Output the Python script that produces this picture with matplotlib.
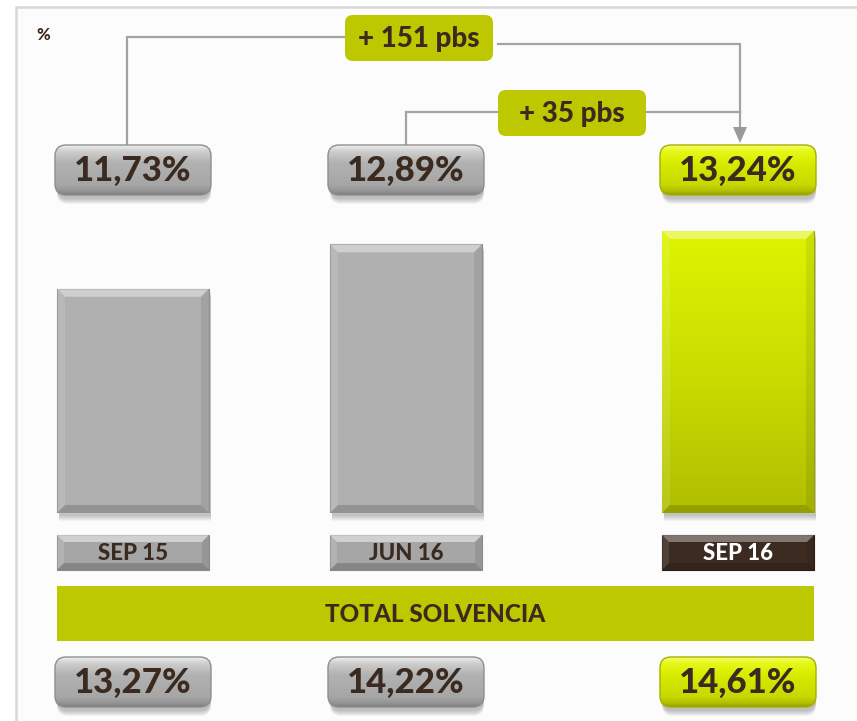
import numpy as np
import matplotlib
matplotlib.use('Agg')
import matplotlib.pyplot as plt
from matplotlib.patches import FancyBboxPatch, Rectangle, Polygon
from matplotlib.colors import to_rgb

plt.rcParams['font.family'] = ['Lato', 'DejaVu Sans']

# data
categories = ['SEP 15', 'JUN 16', 'SEP 16']
cet1 = [11.73, 12.89, 13.24]
total_solvency = [13.27, 14.22, 14.61]
band_title = 'TOTAL SOLVENCIA'

# layout (pixels, y grows downwards)
W, H = 857, 721
centers = [133, 406, 738]
bar_w = 152
box_w, box_h = 156, 50
bar_bottom, bar_axes_top = 513, 200
base_val, px_per_unit = 5.875, 38.3

TXT = '#3b2a1f'
GREY_LINE = '#a3a3a3'
OLIVE = '#bdc800'
HEAVY = 'black'


def fmt(v):
    return ('%.2f%%' % v).replace('.', ',')


def gradient(ax, x0, y_top, x1, y_bot, stops, clip):
    t = np.linspace(0, 1, 200)
    pos = [s[0] for s in stops]
    cols = np.array([to_rgb(s[1]) for s in stops])
    img = np.stack([np.interp(t, pos, cols[:, i]) for i in range(3)], axis=1)
    im = ax.imshow(img[:, None, :], extent=(x0, x1, y_bot, y_top), origin='upper',
                   aspect='auto', interpolation='bilinear', zorder=3)
    im.set_clip_path(clip)


def glossy_box(ax, cx, y0, text, kind):
    x0 = cx - box_w / 2
    for k in range(6):
        ax.add_patch(FancyBboxPatch((x0 + 2, y0 + 4 + k), box_w - 2, box_h,
                                    boxstyle='round,pad=0,rounding_size=11',
                                    fc='black', ec='none', alpha=0.045, zorder=1))
    if kind == 'yellow':
        stops = [(0, '#f4ff70'), (0.12, '#e6f81a'), (0.35, '#d8ec00'),
                 (0.8, '#c6d800'), (0.93, '#aebd00'), (1, '#8e9a00')]
        ec = '#a4b000'
    else:
        stops = [(0, '#f0f0f0'), (0.12, '#cfcfcf'), (0.35, '#b2b2b2'),
                 (0.8, '#a6a6a6'), (0.93, '#939393'), (1, '#7a7a7a')]
        ec = '#8e8e8e'
    p = FancyBboxPatch((x0, y0), box_w, box_h,
                       boxstyle='round,pad=0,rounding_size=11',
                       fc='none', ec=ec, lw=1.0, zorder=4)
    ax.add_patch(p)
    gradient(ax, x0, y0, x0 + box_w, y0 + box_h, stops, p)
    ax.text(cx, y0 + box_h / 2 + 1, text, ha='center', va='center',
            fontsize=25, fontweight=HEAVY, color=TXT, zorder=5)


def bevel(ax, x0, y0, x1, y1, d, tr=None, strength=1.0):
    kw = dict(ec='none', zorder=4)
    if tr is not None:
        kw['transform'] = tr
    faces = [
        ([(x0, y0), (x1, y0), (x1 - d, y0 + d), (x0 + d, y0 + d)], 'white', 0.40),
        ([(x0, y0), (x0 + d, y0 + d), (x0 + d, y1 - d), (x0, y1)], 'white', 0.12),
        ([(x1, y0), (x1 - d, y0 + d), (x1 - d, y1 - d), (x1, y1)], 'black', 0.08),
        ([(x0, y1), (x1, y1), (x1 - d, y1 - d), (x0 + d, y1 - d)], 'black', 0.16),
    ]
    for pts, c, a in faces:
        ax.add_patch(Polygon(pts, closed=True, fc=c, alpha=a * strength, **kw))


fig = plt.figure(figsize=(W / 100, H / 100), dpi=100)
ax = fig.add_axes([0, 0, 1, 1])
ax.set_xlim(0, W)
ax.set_ylim(H, 0)
ax.axis('off')

# panel background and frame
ax.add_patch(Rectangle((16, 7), W + 20, H + 20, fc='#fcfcfc', ec='#d8d8d8', lw=1.8, zorder=0))
ax.text(36, 35, '%', fontsize=12, fontweight=HEAVY, color=TXT, va='center', ha='left')

# bars
ax_bar = fig.add_axes([0, 1 - bar_bottom / H, 1, (bar_bottom - bar_axes_top) / H])
ax_bar.set_xlim(0, W)
ax_bar.set_ylim(base_val, base_val + (bar_bottom - bar_axes_top) / px_per_unit)
ax_bar.axis('off')
ax_bar.patch.set_alpha(0)

bar_cols = ['#b0b0b0', '#b0b0b0', '#cfe200']
bars = ax_bar.bar(centers, cet1, width=bar_w, color=bar_cols, edgecolor='#8f8f8f',
                  linewidth=0.8, zorder=2)
bars[2].set_edgecolor('#9aa600')
to_px = ax_bar.transData + ax.transData.inverted()
for i, b in enumerate(bars):
    (bx0, by0), (bx1, by1) = to_px.transform([(b.get_x(), base_val),
                                              (b.get_x() + b.get_width(), b.get_height())])
    top, bot = min(by0, by1), max(by0, by1)
    # drop shadow
    for k in range(6):
        ax.add_patch(Rectangle((bx0 + 2, top + 3 + k), bx1 - bx0, bot - top,
                               fc='black', ec='none', alpha=0.04, zorder=1))
    if i == 2:
        stops = [(0, '#def400'), (0.5, '#cadc00'), (1, '#b0be00')]
        gradient(ax_bar, b.get_x(), b.get_height(), b.get_x() + b.get_width(), base_val,
                 stops, b)
    bevel(ax_bar, bx0, top, bx1, bot, 8, tr=ax.transData)

# category tags
tag_y0, tag_h = 535, 35
for i, (c, name) in enumerate(zip(centers, categories)):
    x0 = c - bar_w / 2
    dark = i == 2
    fc = '#3c2b20' if dark else '#a6a6a6'
    ax.add_patch(Rectangle((x0, tag_y0), bar_w, tag_h, fc=fc,
                           ec='#2a1c14' if dark else '#8a8a8a', lw=0.8, zorder=3))
    bevel(ax, x0, tag_y0, x0 + bar_w, tag_y0 + tag_h, 7, strength=0.9 if dark else 1.2)
    ax.text(c, tag_y0 + tag_h / 2 + 1, name, ha='center', va='center', fontsize=16,
            fontweight=HEAVY, color='white' if dark else TXT, zorder=5)

# total solvency band
band_x0 = centers[0] - bar_w / 2
band_x1 = centers[2] + bar_w / 2
ax.add_patch(Rectangle((band_x0, 586), band_x1 - band_x0, 55, fc=OLIVE, ec='none', zorder=2))
ax.text((band_x0 + band_x1) / 2, 614, band_title, ha='center', va='center', fontsize=17.5,
        fontweight=HEAVY, color=TXT, zorder=5)

# value boxes
for i, c in enumerate(centers):
    kind = 'yellow' if i == 2 else 'grey'
    glossy_box(ax, c, 145, fmt(cet1[i]), kind)
    glossy_box(ax, c, 657, fmt(total_solvency[i]), kind)

# variation connectors
d_year = round((cet1[2] - cet1[0]) * 100)
d_quarter = round((cet1[2] - cet1[1]) * 100)
lkw = dict(color=GREY_LINE, lw=1.6, zorder=2, solid_joinstyle='miter')
ax.plot([centers[0] - 6, centers[0] - 6, 345], [145, 37, 37], **lkw)
ax.plot([498, centers[2] + 2, centers[2] + 2], [44, 44, 128], **lkw)
ax.plot([centers[1], centers[1], 498], [145, 112, 112], **lkw)
ax.plot([646, centers[2] + 2], [112, 112], **lkw)
ax.add_patch(Polygon([(centers[2] - 5, 127), (centers[2] + 9, 127), (centers[2] + 2, 143)],
                     closed=True, fc='#9a9a9a', ec='none', zorder=3))

for (x0, y0, w, h), dv in [((345, 15, 148, 46), d_year), ((498, 90, 148, 46), d_quarter)]:
    ax.add_patch(FancyBboxPatch((x0, y0), w, h, boxstyle='round,pad=0,rounding_size=8',
                                fc=OLIVE, ec='none', zorder=4))
    ax.text(x0 + w / 2, y0 + h / 2 + 1, '+ %d pbs' % dv, ha='center', va='center',
            fontsize=20, fontweight=HEAVY, color=TXT, zorder=5)

fig.savefig('out.png', dpi=100)
